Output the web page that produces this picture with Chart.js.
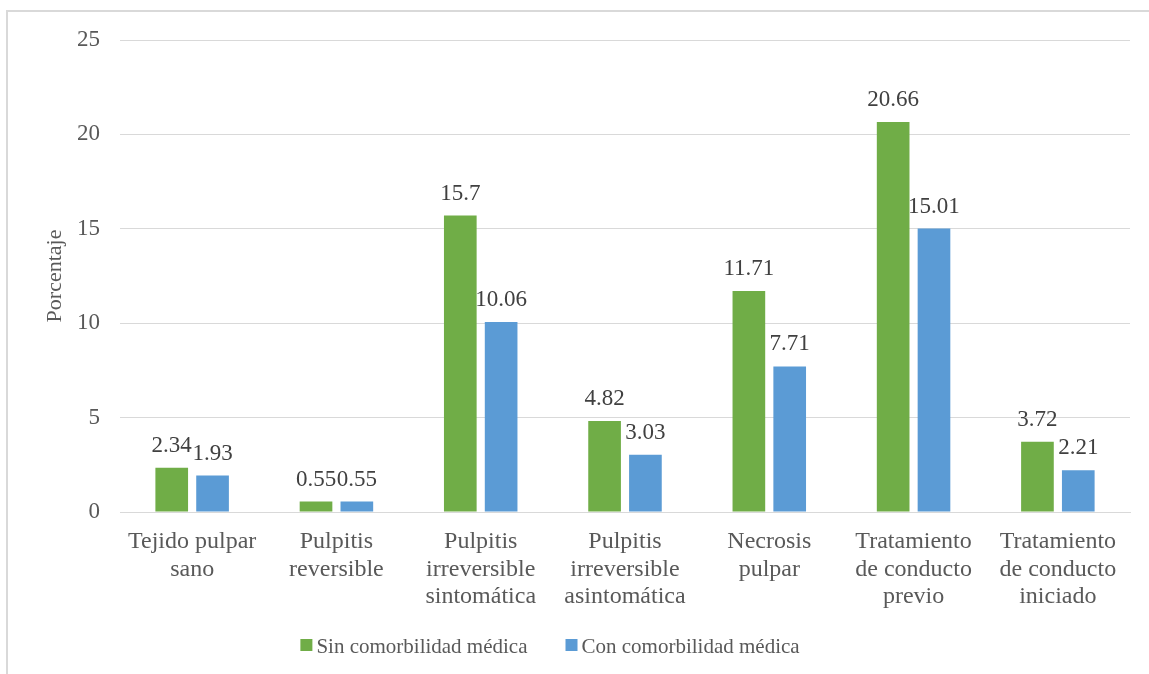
<!DOCTYPE html>
<html>
<head>
<meta charset="utf-8">
<script src="https://cdn.jsdelivr.net/npm/chart.js@4.4.1/dist/chart.umd.min.js"></script>
<style>
  html, body { margin: 0; background: #fff; overflow: hidden; font-family: "Liberation Serif", serif; }
  #frame { position: absolute; left: 6px; top: 10px; width: 1300px; height: 800px;
           border-top: 2px solid #d9d9d9; border-left: 2px solid #d9d9d9; }
  #wrap { position: absolute; left: 0; top: 0; width: 1149px; height: 674px; }
  #fontwarm { position: absolute; left: -9999px; top: 0; font: 23px "Liberation Serif"; }
</style>
</head>
<body>
<div id="fontwarm">Porcentaje 0123456789</div>
<div id="frame"></div>
<div id="wrap"><canvas id="chart"></canvas></div>
<script>
// data
const categories = [
  ['Tejido pulpar', 'sano'],
  ['Pulpitis', 'reversible'],
  ['Pulpitis', 'irreversible', 'sintomática'],
  ['Pulpitis', 'irreversible', 'asintomática'],
  ['Necrosis', 'pulpar'],
  ['Tratamiento', 'de conducto', 'previo'],
  ['Tratamiento', 'de conducto', 'iniciado']
];
const sinComorbilidad = [2.34, 0.55, 15.7, 4.82, 11.71, 20.66, 3.72];
const conComorbilidad = [1.93, 0.55, 10.06, 3.03, 7.71, 15.01, 2.21];
const yTicks = [0, 5, 10, 15, 20, 25];

const SERIF = '"Liberation Serif"';
const GREEN = '#70ad47';
const BLUE = '#5b9bd5';

Chart.defaults.font.family = SERIF;

// value labels above each bar
const barLabels = {
  id: 'barLabels',
  afterDatasetsDraw(chart) {
    const ctx = chart.ctx;
    ctx.save();
    ctx.font = '23px ' + SERIF;
    ctx.fillStyle = '#404040';
    ctx.textAlign = 'center';
    ctx.textBaseline = 'alphabetic';
    chart.data.datasets.forEach((ds, i) => {
      chart.getDatasetMeta(i).data.forEach((bar, j) => {
        ctx.fillText(String(ds.data[j]), bar.x, bar.y - 16);
      });
    });
    ctx.restore();
  }
};

// legend under the axis labels, small squares close to the text
const bottomLegend = {
  id: 'bottomLegend',
  afterDraw(chart) {
    const ctx = chart.ctx;
    ctx.save();
    ctx.font = '21px ' + SERIF;
    const box = 12, gapText = 4, gapItem = 38;
    const items = chart.data.datasets.map(ds => ({
      label: ds.label, color: ds.backgroundColor, w: ctx.measureText(ds.label).width
    }));
    const total = items.reduce((s, it) => s + box + gapText + it.w, 0) + gapItem * (items.length - 1);
    let x = 550 - total / 2;
    const y = 645;
    items.forEach(it => {
      ctx.fillStyle = it.color;
      ctx.fillRect(x, y - box / 2, box, box);
      ctx.fillStyle = '#595959';
      ctx.textAlign = 'left';
      ctx.textBaseline = 'alphabetic';
      ctx.fillText(it.label, x + box + gapText, y + 8);
      x += box + gapText + it.w + gapItem;
    });
    ctx.restore();
  }
};

function draw() {
  new Chart(document.getElementById('chart'), {
    type: 'bar',
    data: {
      labels: categories,
      datasets: [
        { label: 'Sin comorbilidad médica', data: sinComorbilidad, backgroundColor: GREEN,
          categoryPercentage: 0.566, barPercentage: 0.8 },
        { label: 'Con comorbilidad médica', data: conComorbilidad, backgroundColor: BLUE,
          categoryPercentage: 0.566, barPercentage: 0.8 }
      ]
    },
    options: {
      responsive: true,
      maintainAspectRatio: false,
      animation: false,
      layout: { padding: { top: 40, right: 19, left: 0, bottom: 0 } },
      plugins: {
        legend: { display: false },
        tooltip: { enabled: false }
      },
      scales: {
        x: {
          grid: { display: false },
          border: { display: true, color: '#d9d9d9', width: 1 },
          ticks: {
            color: '#595959',
            font: { family: SERIF, size: 24, lineHeight: 1.15 },
            padding: 8,
            maxRotation: 0,
            autoSkip: false
          },
          afterFit: s => { s.height = 162; }
        },
        y: {
          min: 0,
          max: 25,
          afterBuildTicks: s => { s.ticks = yTicks.map(v => ({ value: v })); },
          grid: { color: '#d9d9d9', lineWidth: 1, drawTicks: false },
          border: { display: false },
          ticks: {
            color: '#595959',
            font: { family: SERIF, size: 23 },
            padding: 20
          },
          title: {
            display: true,
            text: 'Porcentaje',
            color: '#595959',
            font: { family: SERIF, size: 22, lineHeight: 1.2 },
            padding: { top: 42, bottom: 0 }
          },
          afterFit: s => { s.width = 120; }
        }
      }
    },
    plugins: [barLabels, bottomLegend]
  });
}

document.fonts.load('23px "Liberation Serif"').then(draw, draw);
</script>
</body>
</html>
